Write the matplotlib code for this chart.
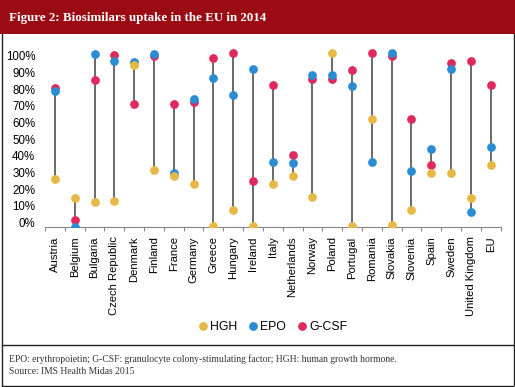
import matplotlib
matplotlib.use("Agg")
import matplotlib.pyplot as plt
from matplotlib.ticker import FuncFormatter, FixedLocator
from matplotlib.lines import Line2D
from matplotlib.patches import Rectangle
import numpy as np

countries = ["Austria", "Belgium", "Bulgaria", "Czech Republic", "Denmark", "Finland",
             "France", "Germany", "Greece", "Hungary", "Ireland", "Italy", "Netherlands",
             "Norway", "Poland", "Portugal", "Romania", "Slovakia", "Slovenia", "Spain",
             "Sweden", "United Kingdom", "EU"]

# uptake in %
hgh = [26, 15, 12.6, 13, 94.6, 31.7, 27.7, 23, -2, 7.4, -1.8, 23.2, 27.7,
       15.2, 101.4, -2, 62, -1.6, 7.8, 29.5, 30, 14.8, 34.7]
epo = [78.8, -2.4, 101, 96.6, 96.2, 101.2, 29.9, 73.9, 86.8, 76.2, 92.2, 36.3, 35.9,
       88.4, 88.6, 82, 36.3, 101.4, 30.7, 43.9, 92, 6.6, 45.3]
gcsf = [80.4, 1.4, 85.6, 100.6, 70.9, 99.8, 71.3, 72.5, 98.6, 101.6, 25.1, 82.6, 40.3,
        86.2, 86.2, 91.2, 101.4, 99.8, 62, 34.7, 95.6, 96.6, 82.6]

c_hgh = "#E6B947"
c_epo = "#2A8CD3"
c_gcsf = "#DE2A5C"
band = "#9B0B13"

fig = plt.figure(figsize=(5.15, 3.87), dpi=100)

# title band
fig.patches.append(Rectangle((0, 1 - 34 / 387), 1, 34 / 387, transform=fig.transFigure,
                             facecolor=band, edgecolor="none", zorder=0))
fig.text(9 / 515, 1 - 18 / 387, "Figure 2: Biosimilars uptake in the EU in 2014",
         color="white", fontsize=9.4, fontweight="bold", family="Liberation Serif",
         va="center", ha="left")

# frame lines
def hline(y, x0=2, x1=513):
    fig.add_artist(Line2D([x0 / 515, x1 / 515], [1 - y / 387, 1 - y / 387],
                          color="#222222", lw=1, transform=fig.transFigure))

def vline(x, y0=34, y1=385):
    fig.add_artist(Line2D([x / 515, x / 515], [1 - y0 / 387, 1 - y1 / 387],
                          color="#222222", lw=1, transform=fig.transFigure))

hline(345)
hline(385.5)
vline(1.5)
vline(513.5)

ax = fig.add_axes([45 / 515, 1 - 226.7 / 387, 455.6 / 515, 179.4 / 387])
x = np.arange(len(countries))
h = np.array(hgh) / 100
e = np.array(epo) / 100
g = np.array(gcsf) / 100
lo = np.minimum(np.minimum(h, e), g)
hi = np.maximum(np.maximum(h, e), g)
ax.vlines(x, lo, hi, color="#505050", lw=1.2, zorder=1)
ax.plot(x, g, "o", color=c_gcsf, ms=6.3, mec="none", zorder=2)
ax.plot(x, e, "o", color=c_epo, ms=6.3, mec="none", zorder=3)
ax.plot(x, h, "o", color=c_hgh, ms=6.3, mec="none", zorder=4)

ax.set_xlim(-0.5, len(countries) - 0.5)
ax.set_ylim(-0.024, 1.05)
ax.set_yticks(np.arange(0, 1.01, 0.1))
ax.yaxis.set_major_formatter(FuncFormatter(lambda v, p: f"{v*100:.0f}%"))
ax.tick_params(axis="y", length=0, pad=7, labelsize=8.3)
for s in ["top", "right", "left"]:
    ax.spines[s].set_visible(False)
ax.spines["bottom"].set_color("#888888")
ax.xaxis.set_major_locator(FixedLocator(np.arange(-0.5, len(countries), 1)))
ax.xaxis.set_major_formatter(FuncFormatter(lambda v, p: ""))
ax.xaxis.set_minor_locator(FixedLocator(x))
ax.set_xticklabels(countries, minor=True, rotation=90, fontsize=8.1)
ax.tick_params(axis="x", which="major", length=3, color="#888888")
ax.tick_params(axis="x", which="minor", length=0, pad=7)
for lbl in ax.get_yticklabels() + ax.get_xticklabels(minor=True):
    lbl.set_family("Liberation Sans")

handles = [Line2D([], [], marker="o", ls="none", color=c, ms=6.3, mec="none")
           for c in (c_hgh, c_epo, c_gcsf)]
fig.legend(handles, ["HGH", "EPO", "G-CSF"], loc="center", ncol=3,
           bbox_to_anchor=(0.527, 1 - 327 / 387), frameon=False, handletextpad=-0.05,
           handlelength=1.2, columnspacing=0.75,
           prop={"family": "Liberation Sans", "size": 8.8})

fig.text(9 / 515, 1 - 359 / 387,
         "EPO: erythropoietin; G-CSF: granulocyte colony-stimulating factor; HGH: human growth hormone.",
         fontsize=6.9, family="Liberation Serif", color="#333333", va="center")
fig.text(9 / 515, 1 - 372 / 387, "Source: IMS Health Midas 2015",
         fontsize=6.9, family="Liberation Serif", color="#333333", va="center")

fig.savefig("out.png", dpi=100)
